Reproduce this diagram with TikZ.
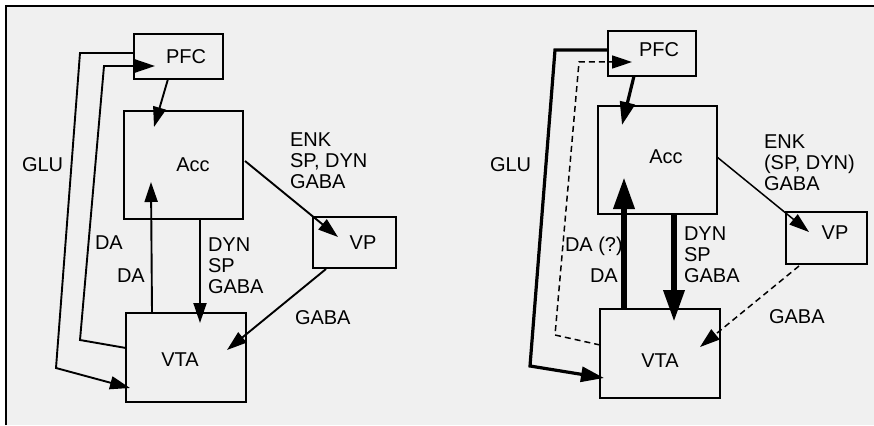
\documentclass[tikz,border=0pt]{standalone}
\usepackage{fontspec}
\setmainfont{Liberation Sans}
\usetikzlibrary{arrows.meta,calc}
\definecolor{bggray}{HTML}{F0F0F0}
\tikzset{
  box/.style={draw, line width=1.6pt, inner sep=0pt, outer sep=0pt},
  lbl/.style={inner sep=0pt, outer sep=0pt, align=left, anchor=west, font=\fontsize{20}{21}\selectfont},
  arr/.style={line width=1.9pt, -{Triangle[length=20pt,width=13pt]}},
  thinarr/.style={line width=1.5pt, -{Triangle[length=20pt,width=13pt]}},
  medarr/.style={line width=3.2pt, -{Triangle[length=23pt,width=15pt]}},
  fatarr/.style={line width=6.5pt, -{Triangle[length=32pt,width=20pt]}},
  dasharr/.style={line width=1.5pt, dash pattern=on 6pt off 4pt, -{Triangle[length=20pt,width=13pt]}},
}
\begin{document}
\begin{tikzpicture}[x=1pt,y=-1pt]
\useasboundingbox (0,0) rectangle (874,425);
\fill[white] (0,0) rectangle (874,425);
\fill[bggray] (6,6) rectangle (874,425);
\draw[line width=1.6pt] (6,425) -- (6,6) -- (874,6);

% ---------- left panel ----------
\node[box, minimum width=89pt, minimum height=45pt, label={[lbl,anchor=center,xshift=7.5pt]center:PFC}] (pfcL) at (178.5,56.5) {};
\node[box, minimum width=119pt, minimum height=108pt, label={[lbl,anchor=center,xshift=9.5pt]center:Acc}] (accL) at (183.5,165) {};
\node[box, minimum width=83pt, minimum height=51pt, label={[lbl,anchor=center,xshift=8.5pt]center:VP}] (vpL) at (354.5,242.5) {};
\node[box, minimum width=120pt, minimum height=89pt, label={[lbl,anchor=center,xshift=-6pt,yshift=-2.5pt]center:VTA}] (vtaL) at (186,357.5) {};

\coordinate (tL1) at (154,127);
\coordinate (tL2) at (130,388);
\coordinate (tL3) at (155,66);
\coordinate (tL4) at (151,182);
\coordinate (tL5) at (200,323);
\coordinate (tL6) at (338,237);
\coordinate (tL7) at (227,350);

\draw[arr] ($(pfcL.south)+(-10.5,0)$) -- (tL1);
\draw[arr] ($(pfcL.west)+(0,-3.5)$) -- (80,53) -- (56,368) -- (tL2);
\draw[arr] ($(vtaL.west)+(0,-9.5)$) -- (80,340) -- (104,66) -- (tL3);
\draw[arr] ($(vtaL.north)+(-34,0)$) -- (tL4);
\draw[arr] ($(accL.south)+(16.5,0)$) -- (tL5);
\draw[arr] ($(accL.east)+(2,-4)$) -- (tL6);
\draw[arr] ($(vpL.south west)+(13,1)$) -- (tL7);

\node[lbl] (gluL) at (22,165) {GLU};
\node[lbl] (daL1) at (95,243) {DA};
\node[lbl] (daL2) at (117,276) {DA};
\node[lbl] (dynL) at (208,265.5) {DYN\\SP\\GABA};
\node[lbl] (enkL) at (290,161) {ENK\\SP, DYN\\GABA};
\node[lbl] (gabaL) at (295,318) {GABA};

% ---------- right panel ----------
\node[box, minimum width=88pt, minimum height=45pt, label={[lbl,anchor=center,xshift=7pt,yshift=3.5pt]center:PFC}] (pfcR) at (652,53.5) {};
\node[box, minimum width=119pt, minimum height=108pt, label={[lbl,anchor=center,xshift=8.5pt,yshift=3pt]center:Acc}] (accR) at (657.5,160) {};
\node[box, minimum width=81pt, minimum height=52pt, label={[lbl,anchor=center,xshift=8.5pt,yshift=5pt]center:VP}] (vpR) at (826.5,238) {};
\node[box, minimum width=120pt, minimum height=89pt, label={[lbl,anchor=center,yshift=-7.5pt]center:VTA}] (vtaR) at (660,353.5) {};

\coordinate (tR1) at (622,125);
\coordinate (tR2) at (604,378);
\coordinate (tR3) at (632,62);
\coordinate (tR4) at (624,177);
\coordinate (tR5) at (674,322);
\coordinate (tR6) at (809,232);
\coordinate (tR7) at (700,347);

\draw[medarr] ($(pfcR.south)+(-18,0)$) -- (tR1);
\draw[medarr] ($(pfcR.west)+(0,-3.5)$) -- (555,50) -- (530,366) -- (tR2);
\draw[dasharr] ($(vtaR.west)+(0,-8.5)$) -- (555,335) -- (579,62) -- (tR3);
\draw[fatarr] ($(vtaR.north)+(-36,0)$) -- (tR4);
\draw[fatarr] ($(accR.south)+(16.5,0)$) -- (tR5);
\draw[thinarr] ($(accR.east)+(0,-3)$) -- (tR6);
\draw[dasharr] ($(vpR.south west)+(13,2)$) -- (tR7);

\node[lbl] (gluR) at (490,165) {GLU};
\node[lbl] (daR1) at (565,246) {DA (?)};
\node[lbl] (daR2) at (590,276) {DA};
\node[lbl] (dynR) at (684,255) {DYN\\SP\\GABA};
\node[lbl] (enkR) at (764,162.5) {ENK\\(SP, DYN)\\GABA};
\node[lbl] (gabaR) at (769,317) {GABA};
\end{tikzpicture}
\end{document}
